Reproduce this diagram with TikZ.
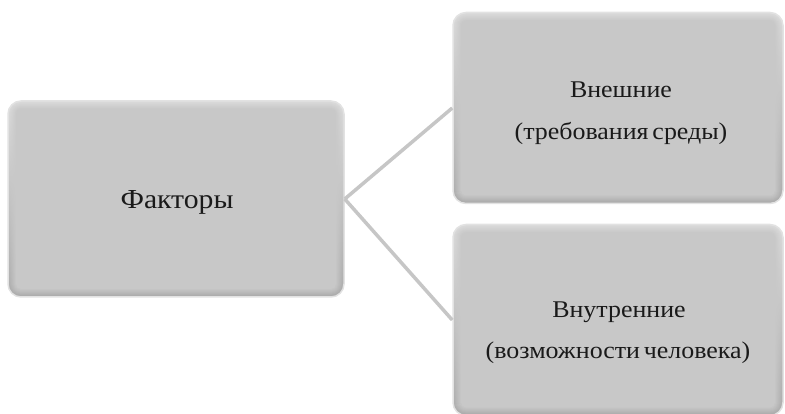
\documentclass[tikz,border=0pt]{standalone}
\usepackage{fontspec}
\setmainfont{Liberation Serif}
\newfontfamily\boxfont[FakeStretch=1.08,WordSpace=0.6]{Liberation Serif}
\definecolor{boxbase}{HTML}{C8C8C8}
\definecolor{boxlite}{HTML}{DCDCDC}
\definecolor{boxdark}{HTML}{A9A9A9}
\definecolor{boxhalo}{HTML}{E2E2E2}
\definecolor{linkgray}{HTML}{C6C6C6}
\definecolor{ink}{HTML}{1A1A1A}
\tikzset{
  bevelbox/.style={
    rounded corners=13pt, draw=boxhalo, line width=1.5pt, fill=boxbase,
    inner sep=0pt,
    path picture={
      \foreach \i in {0,...,8} {
        \pgfmathtruncatemacro\p{100-\i*12.5}
        \shade[rounded corners={max(13-\i,2)*1pt},
               top color=boxlite!\p!boxbase, bottom color=boxdark!\p!boxbase]
          ([shift={(\i pt,-\i pt)}]path picture bounding box.north west)
          rectangle ([shift={(-\i pt,\i pt)}]path picture bounding box.south east);
      }
    }
  },
  label/.style={text=ink, anchor=base, inner sep=0pt, font=\boxfont\fontsize{24}{28}\selectfont},
  biglabel/.style={label, font=\boxfont\fontsize{27.5}{32}\selectfont},
  link/.style={draw=linkgray, line width=3.5pt}
}
\begin{document}
\begin{tikzpicture}[x=1pt,y=-1pt]
  \useasboundingbox (0,0) rectangle (785,414);
  % boxes
  \node[bevelbox, minimum width=336pt, minimum height=196pt] (factors) at (176,199) {};
  \node[bevelbox, minimum width=330pt, minimum height=191pt] (outer) at (618,108) {};
  \node[bevelbox, minimum width=330pt, minimum height=191pt] (inner) at (618,320) {};
  % connectors
  \draw[link] (factors.east) -- (outer.west);
  \draw[link] (factors.east) -- (inner.west);
  % texts
  \node[biglabel] (t0) at (177,209) {Факторы};
  \node[label] (t1) at (621,98) {Внешние};
  \node[label] (t2) at (621,140) {(требования среды)};
  \node[label] (t3) at (619,318) {Внутренние};
  \node[label] (t4) at (618,359) {(возможности человека)};
\end{tikzpicture}
\end{document}
